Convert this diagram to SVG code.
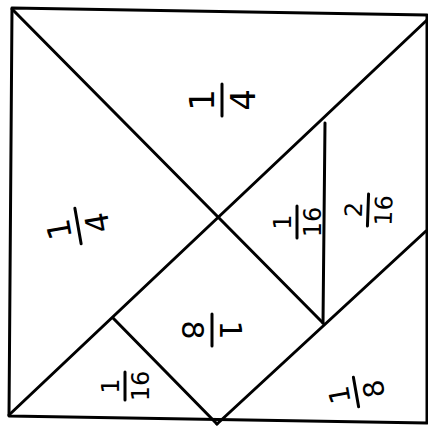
<svg xmlns="http://www.w3.org/2000/svg" width="428" height="432" viewBox="0 0 428 432">
<style>
.ln{stroke:#000;stroke-width:3;fill:none;stroke-linecap:round;stroke-linejoin:round}
.fr text{font-family:"DejaVu Sans","Liberation Sans",sans-serif;fill:#000;text-anchor:middle}
.bar{stroke:#000;stroke-width:3;stroke-linecap:round}
</style>
<rect width="428" height="432" fill="#fff"/>
<g id="connectors">
<polygon class="ln" points="12,8 427,15 427,423 9,416"/>
<line class="ln" x1="12" y1="9" x2="323" y2="323"/>
<line class="ln" x1="9" y1="415" x2="427" y2="20"/>
<line class="ln" x1="325" y1="123" x2="323" y2="323"/>
<line class="ln" x1="113" y1="318" x2="217" y2="424"/>
<line class="ln" x1="217" y1="424" x2="426" y2="231"/>
</g>
<g id="top-quarter" class="fr" transform="translate(222,100) rotate(-90)">
<text x="0" y="-8" font-size="34">1</text><line class="bar" x1="-16" y1="0" x2="16" y2="0"/><text x="0" y="33" font-size="34">4</text>
</g>
<g id="left-quarter" class="fr" transform="translate(78,226) rotate(-100)">
<text x="0" y="-8" font-size="32">1</text><line class="bar" x1="-18" y1="0" x2="18" y2="0"/><text x="0" y="31" font-size="32">4</text>
</g>
<g id="small-triangle" class="fr" transform="translate(297,222) rotate(-90)">
<text x="0" y="-6" font-size="24">1</text><line class="bar" x1="-16" y1="0" x2="16" y2="0"/><text x="0" y="24" font-size="24">16</text>
</g>
<g id="parallelogram" class="fr" transform="translate(368,210) rotate(-88)">
<text x="0" y="-6" font-size="24">2</text><line class="bar" x1="-16" y1="0" x2="16" y2="0"/><text x="0" y="24" font-size="24">16</text>
</g>
<g id="square" class="fr" transform="translate(212,330) rotate(90)">
<text x="0" y="-8" font-size="30">1</text><line class="bar" x1="-16" y1="0" x2="16" y2="0"/><text x="0" y="30" font-size="30">8</text>
</g>
<g id="bottom-left-triangle" class="fr" transform="translate(125,386) rotate(-90)">
<text x="0" y="-6" font-size="24">1</text><line class="bar" x1="-14" y1="0" x2="14" y2="0"/><text x="0" y="24" font-size="24">16</text>
</g>
<g id="bottom-right-triangle" class="fr" transform="translate(356,392) rotate(-100)">
<text x="0" y="-7" font-size="28">1</text><line class="bar" x1="-15" y1="0" x2="15" y2="0"/><text x="0" y="28" font-size="28">8</text>
</g>
</svg>
